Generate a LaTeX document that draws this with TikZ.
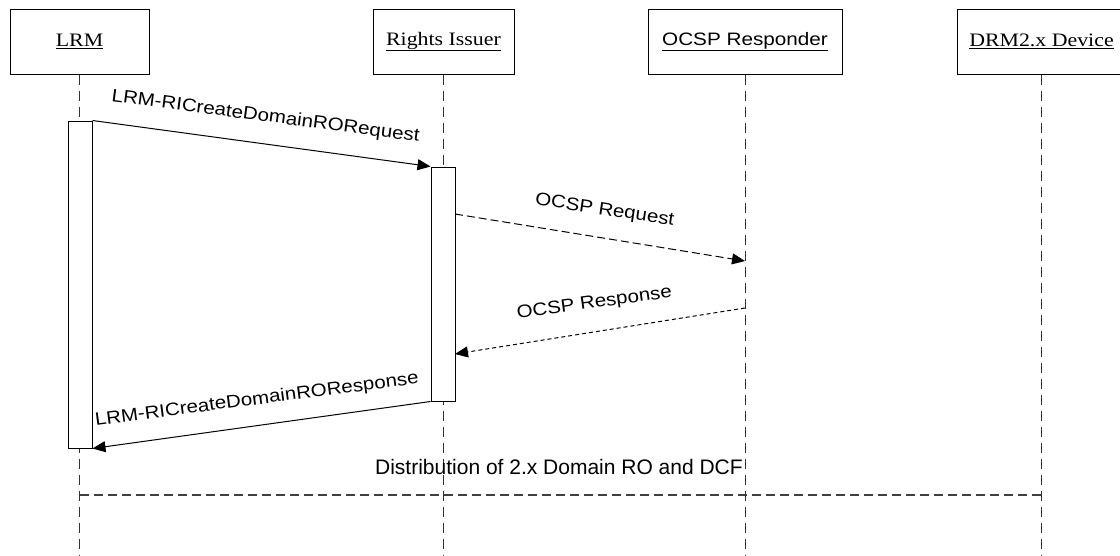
\documentclass[tikz,border=0pt]{standalone}
\usepackage{fontspec}
\setmainfont{Liberation Serif}
\newfontfamily\actorfont[FakeStretch=1.15]{Liberation Serif}
\newfontfamily\actorsans[FakeStretch=1.15]{Liberation Sans}
\newfontfamily\msgfont[FakeStretch=1.14]{Liberation Sans}
\newfontfamily\distfont{Liberation Sans}
\usetikzlibrary{arrows.meta}
\begin{document}
\begin{tikzpicture}[x=1pt,y=-1pt,
  actor/.style={draw, line width=1pt, fill=white, minimum height=65pt, inner sep=0pt,
    font=\actorfont\fontsize{19pt}{22pt}\selectfont},
  lifeline/.style={draw=black!80, line width=1pt, dash pattern=on 10pt off 6pt},
  actbar/.style={draw, line width=1pt, fill=white, minimum width=24pt, inner sep=0pt},
  msg/.style={line width=1pt, -{Triangle[length=13pt,width=11pt]}},
  reqdash/.style={msg, dash pattern=on 8pt off 4pt},
  resdash/.style={msg, dash pattern=on 4pt off 3pt},
  distline/.style={draw=black!75, line width=1.3pt, dash pattern=on 9pt off 5pt},
  msglabel/.style={anchor=base, inner sep=0pt, font=\msgfont\fontsize{18pt}{21pt}\selectfont},
  distlabel/.style={anchor=base east, inner sep=0pt, font=\distfont\fontsize{21pt}{24pt}\selectfont}]
\useasboundingbox (0,0) rectangle (1120,555);
\coordinate (bottom) at (0,556);
\coordinate (dist) at (0,495);

% actors
\node[actor, minimum width=139pt] (lrm) at (79.5,41.5) {\underline{LRM}};
\node[actor, minimum width=141pt] (ri) at (443.5,41.5) {\underline{Rights Issuer}};
\node[actor, minimum width=194pt, font=\actorsans\fontsize{18pt}{21pt}\selectfont] (ocsp) at (745,41.5) {\underline{OCSP Responder}};
\node[actor, minimum width=168pt] (drm) at (1041.5,41.5) {\underline{DRM2.x Device}};

% lifelines
\draw[lifeline] (lrm.south) -- (lrm.south |- bottom);
\draw[lifeline] (ri.south) -- (ri.south |- bottom);
\draw[lifeline] (ocsp.south) -- (ocsp.south |- bottom);
\draw[lifeline] (drm.south) -- (drm.south |- bottom);

% activation bars
\node[actbar, minimum height=327pt] (lrmbar) at (80,284.5) {};
\node[actbar, minimum height=234pt] (ribar) at (443,284) {};

% message anchor points on the OCSP lifeline
\coordinate (oreqS) at (455,214);
\coordinate (oreqE) at (745,261);
\coordinate (oresS) at (745,308);
\coordinate (oresE) at (455,354);

% messages
\draw[msg] (lrmbar.north east) -- (ribar.north west);
\node[msglabel, rotate=-7.5] (l1) at (265,121.5) {LRM-RICreateDomainRORequest};

\draw[reqdash] (oreqS) -- (oreqE);
\node[msglabel, rotate=-8.5] (l2) at (604,215) {OCSP Request};

\draw[resdash] (oresS) -- (oresE);
\node[msglabel, rotate=7.8] (l3) at (595,308) {OCSP Response};

\draw[msg] (ribar.south west) -- (lrmbar.south east);
\node[msglabel, rotate=7.4] (l4) at (257.5,404.5) {LRM-RICreateDomainROResponse};

% distribution
\draw[distline] (lrm.south |- dist) -- (drm.south |- dist);
\node[distlabel] (l5) at (743,474) {Distribution of 2.x Domain RO and DCF};
\end{tikzpicture}
\end{document}
